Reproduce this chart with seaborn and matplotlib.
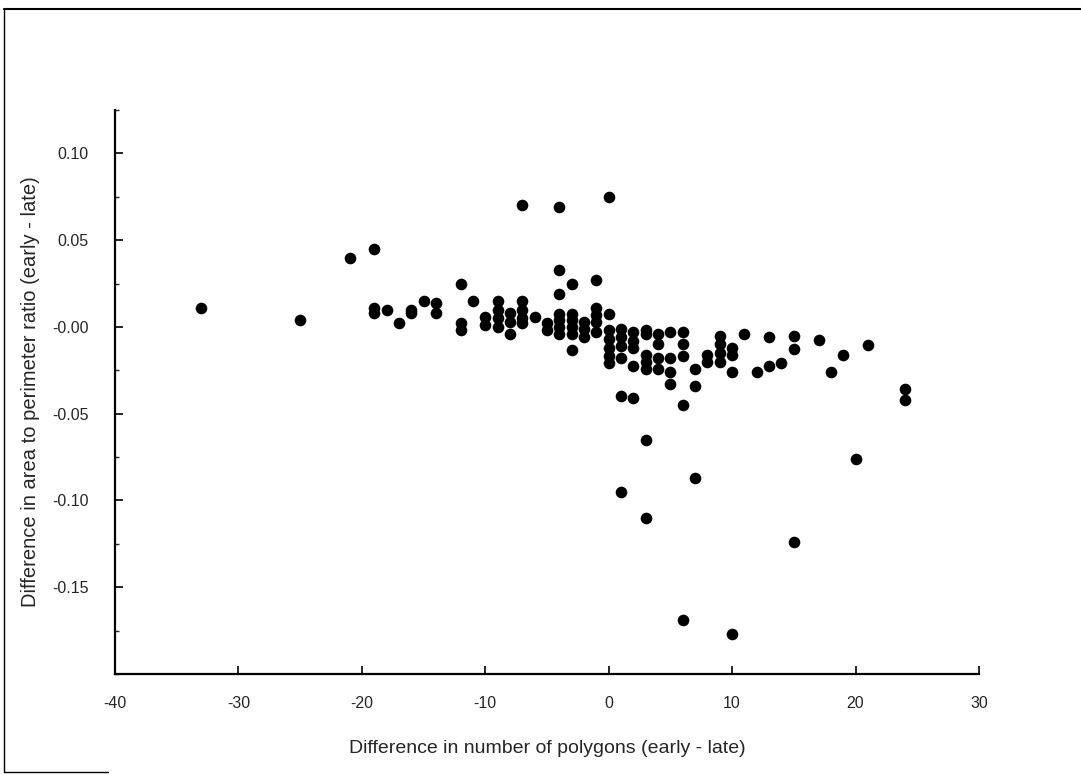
import numpy as np
import pandas as pd

import matplotlib
matplotlib.use("Agg")
import matplotlib.pyplot as plt
from matplotlib.lines import Line2D
from matplotlib.ticker import MultipleLocator, FixedLocator, FixedFormatter
import seaborn as sns

# =====================================================
# STYLE
# =====================================================
sns.set_style("ticks")
plt.rcParams["font.family"] = ["Liberation Sans", "DejaVu Sans"]
plt.rcParams["axes.unicode_minus"] = False

# =====================================================
# DATA
# =====================================================
diff_polygons = [
    -33, -25, -21,
    -19, -19, -19, -18, -17, -16, -16, -15, -14, -14,
    -12, -12, -12, -11, -10, -10,
    -9, -9, -9, -9, -8, -8, -8,
    -7, -7, -7, -7, -7, -6, -5, -5,
    -4, -4, -4, -4, -4, -4, -4,
    -3, -3, -3, -3, -3, -3,
    -2, -2, -2, -1, -1, -1, -1, -1,
    0, 0, 0, 0, 0, 0, 0,
    1, 1, 1, 1, 1, 1,
    2, 2, 2, 2, 2,
    3, 3, 3, 3, 3, 3, 3,
    4, 4, 4, 4,
    5, 5, 5, 5,
    6, 6, 6, 6, 6,
    7, 7, 7, 8, 8,
    9, 9, 9, 9,
    10, 10, 10, 10,
    11, 12, 13, 13, 14,
    15, 15, 15, 17, 18, 19, 20, 21, 24, 24,
]

diff_ratio = [
    0.011, 0.004, 0.040,
    0.045, 0.011, 0.008, 0.010, 0.002, 0.010, 0.008, 0.015, 0.014, 0.008,
    0.025, 0.002, -0.002, 0.015, 0.006, 0.001,
    0.015, 0.010, 0.005, 0.000, 0.008, 0.003, -0.004,
    0.070, 0.015, 0.010, 0.005, 0.002, 0.006, 0.002, -0.002,
    0.069, 0.033, 0.019, 0.0075, 0.004, 0.000, -0.004,
    0.025, 0.0075, 0.004, 0.000, -0.004, -0.013,
    0.003, -0.001, -0.006, 0.027, 0.011, 0.007, 0.003, -0.003,
    0.075, 0.0075, -0.002, -0.007, -0.012, -0.017, -0.021,
    -0.001, -0.006, -0.011, -0.018, -0.040, -0.095,
    -0.003, -0.008, -0.012, -0.0225, -0.041,
    -0.002, -0.004, -0.016, -0.020, -0.024, -0.065, -0.110,
    -0.004, -0.010, -0.018, -0.024,
    -0.003, -0.018, -0.026, -0.033,
    -0.003, -0.010, -0.017, -0.045, -0.169,
    -0.024, -0.034, -0.087, -0.016, -0.020,
    -0.005, -0.010, -0.015, -0.020,
    -0.012, -0.016, -0.026, -0.177,
    -0.004, -0.026, -0.006, -0.0225, -0.021,
    -0.005, -0.0125, -0.124, -0.0076, -0.026, -0.016, -0.076, -0.0106, -0.036, -0.042,
]

x_ticks = [-40, -30, -20, -10, 0, 10, 20, 30]
y_ticks = [0.10, 0.05, 0.00, -0.05, -0.10, -0.15]
y_tick_labels = ["0.10", "0.05", "-0.00", "-0.05", "-0.10", "-0.15"]

df = pd.DataFrame({"dx": diff_polygons, "dy": diff_ratio})

# =====================================================
# FIGURE
# =====================================================
fig = plt.figure(figsize=(10.81, 7.75), dpi=100)
ax = fig.add_axes([0.1064, 0.1303, 0.7992, 0.7277])

sns.scatterplot(
    data=df,
    x="dx",
    y="dy",
    color="black",
    s=70,
    linewidth=0,
    ax=ax
)

ax.set_xlim(-40, 30)
ax.set_ylim(-0.2, 0.125)

ax.xaxis.set_major_locator(FixedLocator(x_ticks))
ax.yaxis.set_major_locator(FixedLocator(y_ticks))
ax.yaxis.set_major_formatter(FixedFormatter(y_tick_labels))
ax.yaxis.set_minor_locator(MultipleLocator(0.025))

ax.tick_params(axis="both", which="major", direction="in",
               length=6, width=1.2, labelsize=11.5, color="black")
ax.tick_params(axis="x", which="major", pad=16)
ax.tick_params(axis="y", which="major", pad=19)
ax.tick_params(axis="y", which="minor", direction="in", length=3, width=1)

sns.despine(ax=ax)
for side in ["left", "bottom"]:
    ax.spines[side].set_linewidth(1.6)
    ax.spines[side].set_color("black")

ax.set_xlabel("Difference in number of polygons (early - late)",
              fontsize=14, labelpad=21)
ax.set_ylabel("Difference in area to perimeter ratio (early - late)",
              fontsize=14.5, labelpad=9)

# outer frame of the scanned page
fig.add_artist(Line2D([0.004, 1.0], [0.988, 0.988], color="black", lw=1.5))
fig.add_artist(Line2D([0.004, 0.004], [0.004, 0.988], color="black", lw=1.0))
fig.add_artist(Line2D([0.004, 0.10], [0.004, 0.004], color="black", lw=1.0))

fig.savefig("out.png", dpi=100)
